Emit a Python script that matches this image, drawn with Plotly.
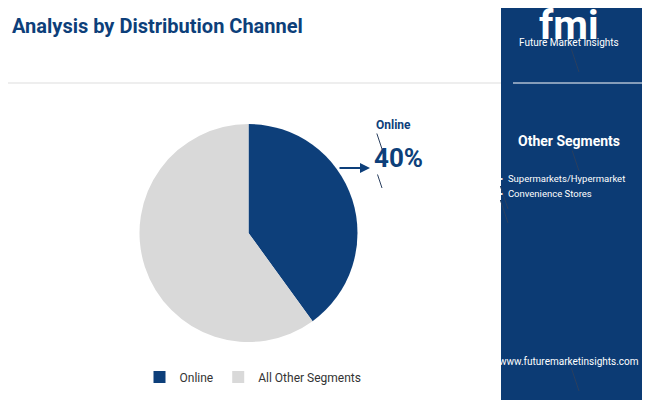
import plotly.graph_objects as go

labels = ["Online", "All Other Segments"]
values = [40, 60]
colors = ["#0d3f7a", "#d9d9d9"]
other_segments = ["Supermarkets/Hypermarket", "Convenience Stores"]

fig = go.Figure()
fig.add_trace(go.Pie(labels=labels, values=values, marker=dict(colors=colors),
                     sort=False, direction="clockwise", rotation=0,
                     textinfo="none", hoverinfo="label+percent",
                     domain=dict(x=[0.165, 0.575], y=[0.165, 0.71])))

W, H = 650, 400
def px_(x): return x / W
def py_(y): return 1 - y / H

shapes = [
    dict(type="rect", xref="paper", yref="paper", x0=px_(493), x1=1, y0=0, y1=1,
         fillcolor="#0c3b74", line_width=0, layer="below"),
    dict(type="line", xref="paper", yref="paper", x0=0, x1=px_(493), y0=py_(75), y1=py_(75),
         line=dict(color="#dddddd", width=1)),
    dict(type="line", xref="paper", yref="paper", x0=px_(505), x1=px_(640), y0=py_(75), y1=py_(75),
         line=dict(color="#ffffff", width=1)),
    dict(type="rect", xref="paper", yref="paper", x0=0, x1=px_(165), y0=0, y1=py_(396),
         fillcolor="#7ab648", line_width=0),
    dict(type="rect", xref="paper", yref="paper", x0=px_(165), x1=px_(330), y0=0, y1=py_(396),
         fillcolor="#f08a24", line_width=0),
    dict(type="rect", xref="paper", yref="paper", x0=px_(330), x1=px_(493), y0=0, y1=py_(396),
         fillcolor="#7b3f98", line_width=0),
    dict(type="rect", xref="paper", yref="paper", x0=px_(493), x1=1, y0=0, y1=py_(396),
         fillcolor="#0c3b74", line_width=0),
]

ann = [
    dict(x=px_(12), y=py_(8), xanchor="left", yanchor="top", align="left",
         text="<b>Almond Protein Market<br>Analysis by Distribution Channel</b>",
         font=dict(size=20, color="#0d3f7a", family="Roboto")),
    dict(x=px_(376), y=py_(147), xanchor="left", yanchor="middle", text="<b>Online</b>",
         font=dict(size=12, color="#0d3f7a", family="Roboto")),
    dict(x=px_(374), y=py_(180), xanchor="left", yanchor="middle", text="<b>40%</b>",
         font=dict(size=26, color="#0d3f7a", family="Roboto")),
    dict(x=px_(571), y=py_(163), xanchor="center", yanchor="middle", text="<b>Other Segments</b>",
         font=dict(size=14, color="white", family="Roboto")),
    dict(x=px_(571), y=py_(22), xanchor="center", yanchor="top", text="<b>fmi</b>",
         font=dict(size=40, color="white", family="Roboto")),
    dict(x=px_(571), y=py_(64), xanchor="center", yanchor="middle", text="Future Market Insights",
         font=dict(size=10, color="white", family="Roboto")),
    dict(x=px_(571), y=py_(383), xanchor="center", yanchor="middle", text="www.futuremarketinsights.com",
         font=dict(size=10, color="white", family="Roboto")),
    dict(x=px_(362), y=py_(160), ax=-32, ay=0, xref="paper", yref="paper",
         showarrow=True, arrowhead=2, arrowsize=1,
         arrowwidth=2, arrowcolor="#0d3f7a", text=""),
]
for i, s in enumerate(other_segments):
    ann.append(dict(x=px_(500), y=py_(201 + i * 14), xanchor="left", yanchor="middle",
                    text="•  " + s, font=dict(size=9.5, color="white", family="Roboto")))

fig.update_layout(
    width=W, height=H, margin=dict(l=0, r=0, t=0, b=0),
    paper_bgcolor="white", plot_bgcolor="white",
    shapes=shapes, annotations=ann,
    showlegend=True,
    legend=dict(orientation="h", x=px_(245), y=py_(369), xanchor="center", yanchor="middle",
                font=dict(size=12, color="#333333", family="Roboto"), itemsizing="constant"),
)
fig.write_html("out.html")
